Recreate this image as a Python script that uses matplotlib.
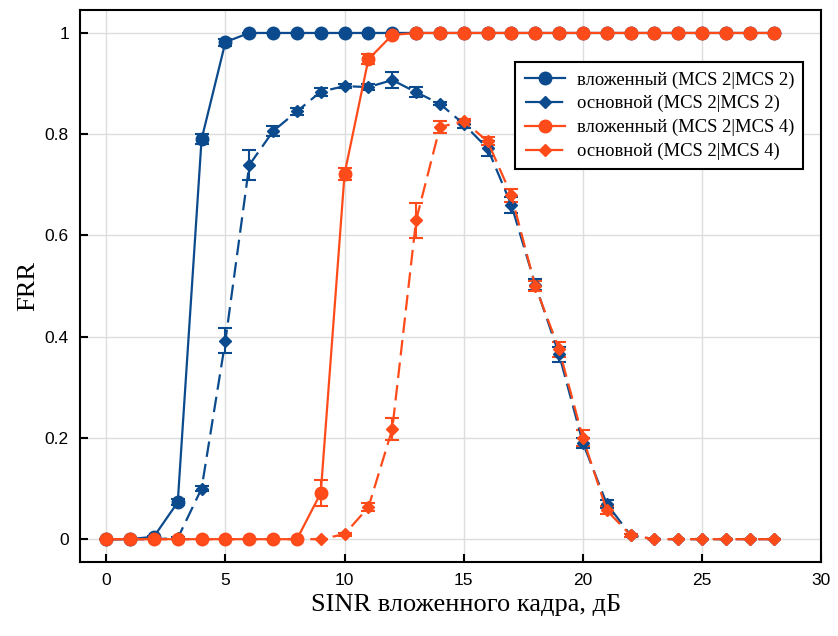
import matplotlib
matplotlib.use("Agg")
import matplotlib.pyplot as plt
import numpy as np

x = list(range(0, 29))

emb22 = [0, 0, 0.005, 0.073, 0.79, 0.982] + [1.0] * 23
emb22_err = [0, 0, 0.002, 0.006, 0.01, 0.007] + [0] * 23

main22 = [0, 0, 0, 0.002, 0.10, 0.392, 0.739, 0.806, 0.845, 0.884, 0.895, 0.893,
          0.907, 0.883, 0.860, 0.820, 0.772, 0.660, 0.503, 0.365, 0.190, 0.070,
          0.008, 0, 0, 0, 0, 0, 0]
main22_err = [0, 0, 0, 0.002, 0.005, 0.025, 0.03, 0.01, 0.007, 0.008, 0.004, 0.006,
              0.015, 0.01, 0.003, 0.008, 0.015, 0.015, 0.01, 0.015, 0.01, 0.008,
              0.003, 0, 0, 0, 0, 0, 0]

emb24 = [0] * 9 + [0.091, 0.722, 0.948, 0.996] + [1.0] * 16
emb24_err = [0] * 9 + [0.025, 0.012, 0.01, 0.002] + [0] * 16

main24 = [0] * 10 + [0.01, 0.063, 0.217, 0.630, 0.814, 0.826, 0.786, 0.679, 0.500,
                     0.375, 0.200, 0.057, 0.008, 0, 0, 0, 0, 0, 0]
main24_err = [0] * 10 + [0.003, 0.008, 0.022, 0.035, 0.012, 0.005, 0.008, 0.012, 0.01,
                         0.015, 0.015, 0.008, 0.003, 0, 0, 0, 0, 0, 0]

labels = ["вложенный (MCS 2|MCS 2)", "основной (MCS 2|MCS 2)",
          "вложенный (MCS 2|MCS 4)", "основной (MCS 2|MCS 4)"]

BLUE = "#0b4a8c"
ORANGE = "#ff4a1a"

fig = plt.figure(figsize=(8.38, 6.36), dpi=100)
ax = fig.add_axes([0.0955, 0.1164, 0.8845, 0.8676])

dash = (0, (7, 3.2))
series = [
    (emb22, emb22_err, BLUE, "-", "o", 9, labels[0]),
    (main22, main22_err, BLUE, dash, "D", 6.3, labels[1]),
    (emb24, emb24_err, ORANGE, "-", "o", 9, labels[2]),
    (main24, main24_err, ORANGE, dash, "D", 6.3, labels[3]),
]
handles = []
for y, e, c, ls, m, ms, lab in series:
    cont = ax.errorbar(x, y, yerr=e, color=c, linestyle=ls, marker=m, markersize=ms,
                       linewidth=1.6, capsize=5, capthick=1.5, elinewidth=1.5, label=lab)
    handles.append(cont[0])

ax.set_xlim(-1.1, 30)
ax.set_ylim(-0.045, 1.045)
ax.set_xticks([0, 5, 10, 15, 20, 25, 30])
ax.set_yticks([0, 0.2, 0.4, 0.6, 0.8, 1.0])
ax.set_yticklabels(["0", "0.2", "0.4", "0.6", "0.8", "1"])
ax.grid(True, color="#dddddd", linewidth=1)
ax.set_axisbelow(True)
ax.tick_params(direction="in", length=6, width=1.5, labelsize=12.5, pad=8)
for lab in ax.get_xticklabels() + ax.get_yticklabels():
    lab.set_family("Liberation Sans")
for s in ax.spines.values():
    s.set_linewidth(1.5)

ax.set_xlabel("SINR вложенного кадра, дБ", family="Liberation Serif", fontsize=19, x=0.521)
ax.set_ylabel("FRR", family="Liberation Serif", fontsize=19)

leg = ax.legend(handles, labels, loc="upper right", bbox_to_anchor=(0.976, 0.906),
                borderaxespad=0,
                prop={"family": "Liberation Serif", "size": 13.4},
                fancybox=False, edgecolor="black", framealpha=1,
                handlelength=2.2, borderpad=0.5, labelspacing=0.35, handletextpad=0.6)
leg.get_frame().set_linewidth(1.5)

fig.savefig("out.png", dpi=100)
